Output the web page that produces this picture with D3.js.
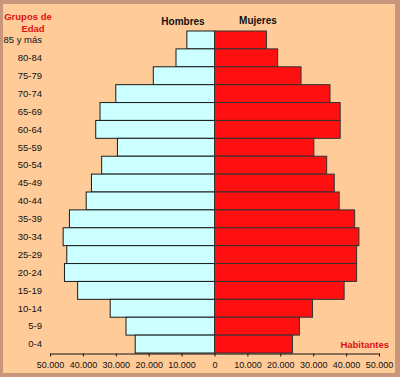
<!DOCTYPE html>
<html>
<head>
<meta charset="utf-8">
<script src="https://cdn.jsdelivr.net/npm/d3@7"></script>
<style>
  body { margin: 0; }
  text { font-family: Arial, "Liberation Sans", sans-serif; }
</style>
</head>
<body>
<div id="chart"></div>
<script>
const svgWidth = 400;
const svgHeight = 377;

// grupos de edad, de arriba a abajo
const ageGroups = ["85 y más", "80-84", "75-79", "70-74", "65-69", "60-64", "55-59", "50-54",
    "45-49", "40-44", "35-39", "30-34", "25-29", "20-24", "15-19", "10-14", "5-9", "0-4"];
const hombres = [8400, 11700, 18600, 30000, 34800, 36100, 29500, 34300,
    37400, 39000, 44100, 46000, 44900, 45600, 41600, 31700, 26900, 24100];
const mujeres = [15800, 19200, 26300, 35100, 38200, 38200, 30200, 34100,
    36400, 37900, 42600, 43900, 43200, 43200, 39400, 29800, 25800, 23700];
const tickValues = [-50000, -40000, -30000, -20000, -10000, 0, 10000, 20000, 30000, 40000, 50000];

const svg = d3.select("#chart")
    .append("svg")
    .attr("width", svgWidth)
    .attr("height", svgHeight);

// marco
svg.append("rect")
    .attr("width", svgWidth)
    .attr("height", svgHeight)
    .attr("fill", "#c8967a");
svg.append("rect")
    .attr("x", 3).attr("y", 4)
    .attr("width", 392).attr("height", 369)
    .attr("fill", "#ffcc99");

const x = d3.scaleLinear()
    .domain([-50000, 50000])
    .range([50, 379]);

const y = d3.scaleBand()
    .domain(ageGroups)
    .range([31, 353])
    .padding(0);

const data = ageGroups.map((g, i) => ({ group: g, h: hombres[i], m: mujeres[i] }));

svg.append("g")
    .selectAll("rect")
    .data(data)
    .enter().append("rect")
    .attr("x", d => x(-d.h))
    .attr("y", d => y(d.group))
    .attr("width", d => x(0) - x(-d.h))
    .attr("height", y.bandwidth())
    .attr("fill", "#ccffff")
    .attr("stroke", "#1a1a1a")
    .attr("stroke-width", 1);

svg.append("g")
    .selectAll("rect")
    .data(data)
    .enter().append("rect")
    .attr("x", x(0))
    .attr("y", d => y(d.group))
    .attr("width", d => x(d.m) - x(0))
    .attr("height", y.bandwidth())
    .attr("fill", "#ff1010")
    .attr("stroke", "#333333")
    .attr("stroke-width", 1);

// eje x
const fmt = v => Math.abs(v) === 0 ? "0" : d3.format(",")(Math.abs(v)).replace(/,/g, ".");
const xAxis = svg.append("g")
    .attr("transform", `translate(0, 353.5)`)
    .call(d3.axisBottom(x).tickValues(tickValues).tickFormat(fmt).tickSize(3).tickSizeOuter(0).tickPadding(5));
xAxis.selectAll("text")
    .style("font-size", "9px")
    .attr("fill", "#111");
xAxis.selectAll("line, path").attr("stroke", "#111");

// etiquetas de edad
svg.append("g")
    .selectAll("text")
    .data(ageGroups)
    .enter().append("text")
    .attr("x", 42)
    .attr("y", d => y(d) + y.bandwidth() / 2)
    .attr("dy", "0.35em")
    .attr("text-anchor", "end")
    .style("font-size", "9.5px")
    .attr("fill", "#111")
    .text(d => d);

svg.append("text")
    .attr("x", 28).attr("y", 19.5)
    .attr("text-anchor", "middle")
    .style("font-size", "9.5px").style("font-weight", "bold")
    .attr("fill", "#e01010")
    .text("Grupos de");
svg.append("text")
    .attr("x", 33).attr("y", 32)
    .attr("text-anchor", "middle")
    .style("font-size", "9.5px").style("font-weight", "bold")
    .attr("fill", "#e01010")
    .text("Edad");

svg.append("text")
    .attr("x", 183).attr("y", 24.5)
    .attr("text-anchor", "middle")
    .style("font-size", "10px").style("font-weight", "bold")
    .attr("fill", "#111")
    .text("Hombres");
svg.append("text")
    .attr("x", 258).attr("y", 24)
    .attr("text-anchor", "middle")
    .style("font-size", "10px").style("font-weight", "bold")
    .attr("fill", "#111")
    .text("Mujeres");

svg.append("text")
    .attr("x", 389).attr("y", 347.5)
    .attr("text-anchor", "end")
    .style("font-size", "9.5px").style("font-weight", "bold")
    .attr("fill", "#e01010")
    .text("Habitantes");
</script>
</body>
</html>
